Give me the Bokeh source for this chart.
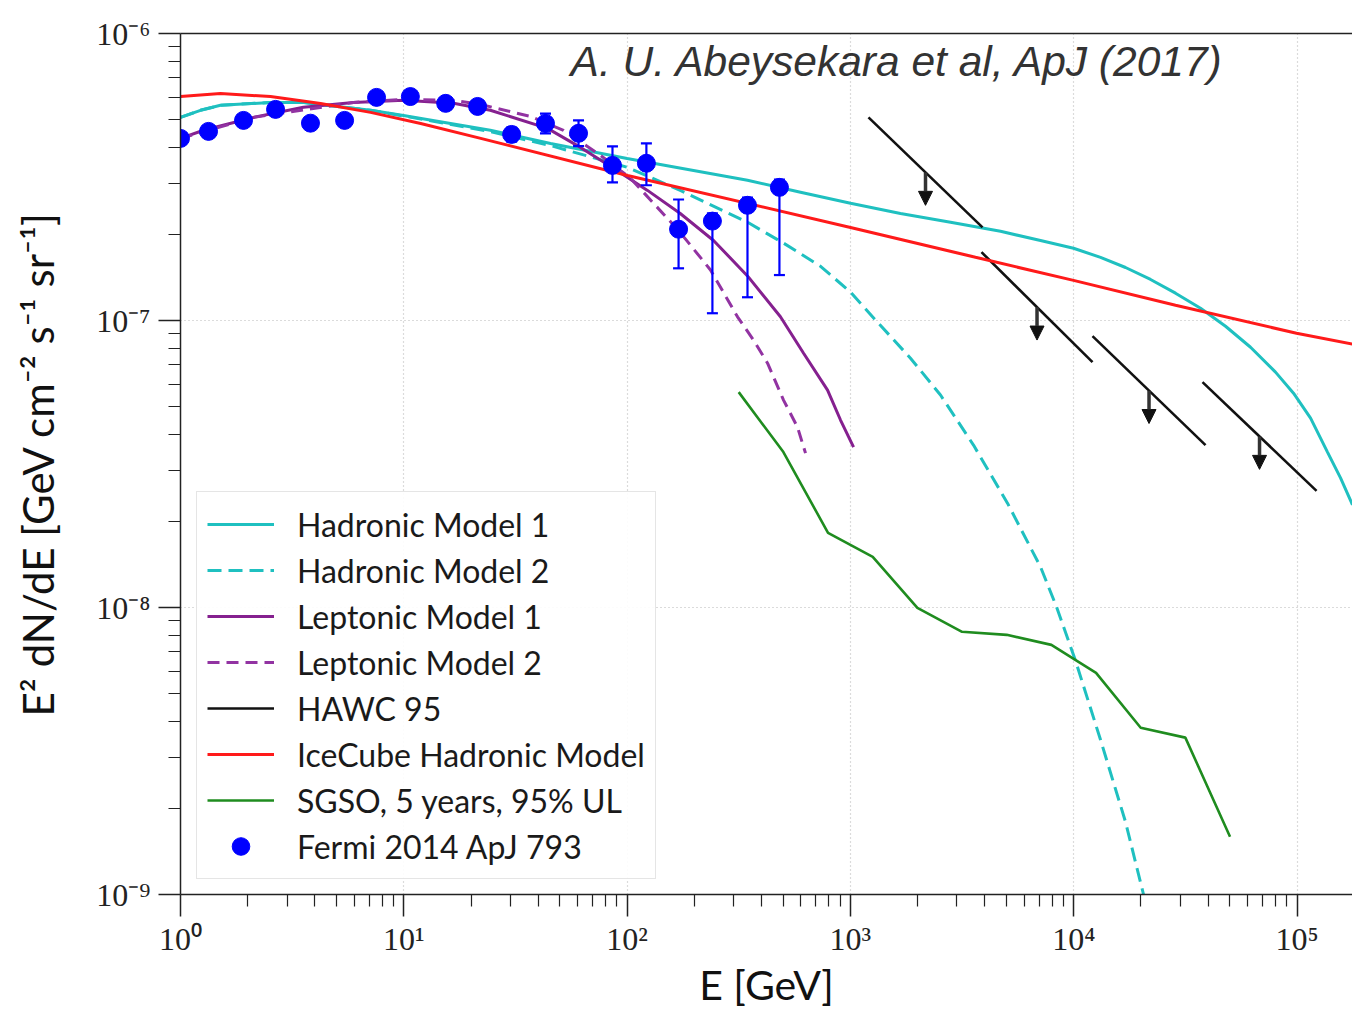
from bokeh.plotting import figure
from bokeh.models import (FixedTicker, CustomJSTickFormatter, Legend, LegendItem,
                          LogAxis, Label, Arrow, NormalHead, ColumnDataSource)
from bokeh.embed import file_html
from bokeh.resources import INLINE

# ---- axes -------------------------------------------------------------
x_start, x_end = 1.0, 1.772e5
y_start, y_end = 1e-9, 1e-6
x_ticks = [1, 10, 100, 1000, 10000, 100000]
x_tick_labels = ["10\u2070", "10\u00b9", "10\u00b2", "10\u00b3", "10\u2074", "10\u2075"]
y_ticks = [1e-9, 1e-8, 1e-7, 1e-6]
y_tick_labels = ["10\u207b\u2079", "10\u207b\u2078", "10\u207b\u2077", "10\u207b\u2076"]

# ---- Fermi-LAT 2014 (ApJ 793) spectral points --------------------------
fermi_E = [1.0, 1.335, 1.915, 2.665, 3.82, 5.43, 7.55, 10.7, 15.4, 21.4,
           30.4, 43.1, 60.6, 86.0, 122.0, 170.0, 241.0, 346.0, 481.0]
fermi_F = [4.31e-7, 4.56e-7, 4.98e-7, 5.44e-7, 4.87e-7, 4.98e-7, 5.99e-7, 6.03e-7,
           5.71e-7, 5.57e-7, 4.45e-7, 4.86e-7, 4.49e-7, 3.47e-7, 3.53e-7, 2.08e-7,
           2.22e-7, 2.52e-7, 2.91e-7]
fermi_F_up = [4.48e-7, 4.74e-7, 5.18e-7, 5.66e-7, 5.07e-7, 5.18e-7, 6.23e-7, 6.27e-7,
              5.96e-7, 5.84e-7, 4.70e-7, 5.26e-7, 4.98e-7, 4.04e-7, 4.14e-7, 2.64e-7,
              2.36e-7, 2.68e-7, 3.10e-7]
fermi_F_dn = [4.14e-7, 4.38e-7, 4.78e-7, 5.22e-7, 4.67e-7, 4.78e-7, 5.75e-7, 5.79e-7,
              5.46e-7, 5.30e-7, 4.20e-7, 4.49e-7, 4.05e-7, 3.03e-7, 2.96e-7, 1.52e-7,
              1.06e-7, 1.205e-7, 1.44e-7]

# ---- model curves ------------------------------------------------------
had1_E = [1.0, 1.229, 1.51, 2.53, 3.55, 7.10, 9.97, 24.4, 45.4, 100.0, 346.0, 597.8,
          1001.0, 1676.0, 2808.0, 4700.0, 7101.0, 9980.0, 13183.0, 17060.0, 22080.0,
          28570.0, 36980.0, 47850.0, 61920.0, 80110.0, 96450.0, 115000.0, 136900.0,
          156600.0, 177200.0]
had1_F = [5.10e-7, 5.40e-7, 5.62e-7, 5.75e-7, 5.75e-7, 5.40e-7, 5.18e-7, 4.60e-7,
          4.14e-7, 3.67e-7, 3.08e-7, 2.80e-7, 2.56e-7, 2.36e-7, 2.20e-7, 2.045e-7,
          1.90e-7, 1.785e-7, 1.66e-7, 1.53e-7, 1.39e-7, 1.245e-7, 1.104e-7, 9.55e-8,
          8.07e-8, 6.61e-8, 5.58e-8, 4.57e-8, 3.48e-8, 2.83e-8, 2.28e-8]

had2_E = [1.0, 1.229, 1.51, 2.53, 3.55, 7.10, 9.97, 24.4, 45.4, 100.0, 173.0, 346.0,
          502.0, 735.0, 1001.0, 1309.0, 1858.0, 2532.0, 3558.0, 5052.0, 7101.0,
          8375.0, 10190.0, 13183.0, 17060.0, 20540.0, 21630.0]
had2_F = [5.10e-7, 5.40e-7, 5.62e-7, 5.75e-7, 5.75e-7, 5.40e-7, 5.16e-7, 4.55e-7,
          4.07e-7, 3.42e-7, 2.84e-7, 2.20e-7, 1.86e-7, 1.545e-7, 1.255e-7, 9.95e-8,
          7.39e-8, 5.50e-8, 3.68e-8, 2.31e-8, 1.385e-8, 1.005e-8, 6.52e-9, 3.46e-9,
          1.79e-9, 1.0e-9, 7.85e-10]

lep1_E = [1.0, 1.268, 2.12, 3.55, 5.95, 9.97, 16.7, 24.4, 44.0, 61.8, 86.9, 123.4,
          173.0, 243.8, 346.0, 486.0, 617.0, 790.0, 903.0, 1033.0]
lep1_F = [4.31e-7, 4.60e-7, 5.10e-7, 5.53e-7, 5.75e-7, 5.85e-7, 5.71e-7, 5.40e-7,
          4.67e-7, 4.01e-7, 3.39e-7, 2.84e-7, 2.36e-7, 1.90e-7, 1.43e-7, 1.03e-7,
          7.69e-8, 5.72e-8, 4.50e-8, 3.62e-8]

lep2_E = [1.0, 2.12, 5.95, 9.97, 16.7, 22.1, 36.9, 51.9, 76.0, 103.6, 169.9, 236.3,
          312.2, 368.3, 425.5, 501.7, 579.6, 629.4]
lep2_F = [4.31e-7, 5.10e-7, 5.75e-7, 5.89e-7, 5.85e-7, 5.66e-7, 5.14e-7, 4.60e-7,
          3.76e-7, 3.13e-7, 2.06e-7, 1.50e-7, 1.03e-7, 8.54e-8, 7.10e-8, 5.28e-8,
          4.25e-8, 3.45e-8]

ice_E = [1.0, 1.51, 2.53, 4.24, 7.10, 11.9, 22.1, 100.4, 1001.0, 3632.0, 9980.0,
         28570.0, 99500.0, 177200.0]
ice_F = [6.03e-7, 6.18e-7, 6.03e-7, 5.70e-7, 5.31e-7, 4.86e-7, 4.31e-7, 3.20e-7,
         2.11e-7, 1.66e-7, 1.38e-7, 1.13e-7, 9.03e-8, 8.27e-8]

sgso_E = [316.0, 501.0, 794.0, 1259.0, 1995.0, 3162.0, 5012.0, 7943.0, 12590.0,
          19950.0, 31620.0, 50120.0]
sgso_F = [5.63e-8, 3.48e-8, 1.82e-8, 1.50e-8, 9.97e-9, 8.23e-9, 8.03e-9, 7.41e-9,
          5.92e-9, 3.81e-9, 3.52e-9, 1.59e-9]

# HAWC 95% upper limits: one power-law segment per energy bin
hawc_E_lo = [1205.0, 3865.0, 12140.0, 37740.0]
hawc_E_hi = [3905.0, 12140.0, 38930.0, 122300.0]
hawc_F_at_lo = [5.10e-7, 1.73e-7, 8.82e-8, 6.10e-8]
hawc_F_at_hi = [2.11e-7, 7.16e-8, 3.68e-8, 2.55e-8]

# ---- styles ------------------------------------------------------------
CYAN = "#1fc0c0"
PURPLE = "#85208f"
PURPLE_D = "#9233a2"
RED = "#ff1a1a"
GREEN = "#1f8c1f"
BLUE = "#0000ff"
SANS = "Lato"
SERIF = "Liberation Serif"
ARROW_DROP = 0.768   # upper-limit arrow length, as a flux ratio

p = figure(width=1352, height=1011, x_axis_type="log", y_axis_type="log",
           x_range=(x_start, x_end), y_range=(y_start, y_end),
           output_backend="svg", toolbar_location=None,
           min_border_left=180, min_border_right=0,
           min_border_top=33, min_border_bottom=116)
p.outline_line_color = None
p.background_fill_color = "white"
p.border_fill_color = "white"


def tick_formatter(vals, labs):
    return CustomJSTickFormatter(args=dict(vals=vals, labs=labs), code="""
        let best = 0, d = Infinity;
        for (let i = 0; i < vals.length; i++) {
            const di = Math.abs(Math.log10(vals[i]) - Math.log10(tick));
            if (di < d) { d = di; best = i; }
        }
        return labs[best];
    """)


x_minor = [m * 10 ** k for k in range(0, 6) for m in range(2, 10)]
y_minor = [m * 10.0 ** k for k in range(-9, -6) for m in range(2, 10)]

xa = p.xaxis[0]
xa.ticker = FixedTicker(ticks=x_ticks, minor_ticks=x_minor)
xa.formatter = tick_formatter(x_ticks, x_tick_labels)
ya = p.yaxis[0]
ya.ticker = FixedTicker(ticks=y_ticks, minor_ticks=y_minor)
ya.formatter = tick_formatter(y_ticks, y_tick_labels)

for ax in (xa, ya):
    ax.axis_line_color = "#222222"
    ax.axis_line_width = 1.5
    ax.major_tick_line_color = "#222222"
    ax.minor_tick_line_color = "#222222"
    ax.major_tick_line_width = 1.5
    ax.minor_tick_line_width = 1.2
    ax.major_tick_in = 0
    ax.major_tick_out = 22
    ax.minor_tick_in = 0
    ax.minor_tick_out = 12
    ax.major_label_text_font = SERIF
    ax.major_label_text_font_size = "32px"
    ax.major_label_text_color = "#222222"
    ax.axis_label_text_font = SANS
    ax.axis_label_text_font_style = "normal"
    ax.axis_label_text_color = "#111111"

xa.axis_label = "E [GeV]"
xa.axis_label_text_font_size = "41px"
xa.major_label_standoff = 4
xa.axis_label_standoff = 0
ya.axis_label = "E\u00b2 dN/dE [GeV cm\u207b\u00b2 s\u207b\u00b9 sr\u207b\u00b9]"
ya.axis_label_text_font_size = "42px"
ya.major_label_standoff = 8
ya.axis_label_standoff = 30

top = LogAxis(ticker=FixedTicker(ticks=[]), major_label_text_font_size="0px",
              major_tick_out=0, minor_tick_out=0, major_tick_in=0, minor_tick_in=0,
              axis_line_color="#222222", axis_line_width=1.5)
p.add_layout(top, "above")

for g in (p.xgrid[0], p.ygrid[0]):
    g.grid_line_color = "#b8b8b8"
    g.grid_line_dash = "1 3"
    g.grid_line_width = 1.2

# ---- curves ------------------------------------------------------------
r_h1 = p.line(had1_E, had1_F, line_color=CYAN, line_width=3)
r_h2 = p.line(had2_E, had2_F, line_color=CYAN, line_width=3, line_dash="14 7")
r_l1 = p.line(lep1_E, lep1_F, line_color=PURPLE, line_width=3)
r_l2 = p.line(lep2_E, lep2_F, line_color=PURPLE_D, line_width=3, line_dash="12 7")

r_hawc = p.segment(x0=hawc_E_lo, y0=hawc_F_at_lo, x1=hawc_E_hi, y1=hawc_F_at_hi,
                   line_color="#111111", line_width=2.6)
arrow_x = [(a * b) ** 0.5 for a, b in zip(hawc_E_lo, hawc_E_hi)]
arrow_y0 = [(a * b) ** 0.5 for a, b in zip(hawc_F_at_lo, hawc_F_at_hi)]
arrow_y1 = [v * ARROW_DROP for v in arrow_y0]
p.add_layout(Arrow(source=ColumnDataSource(dict(x=arrow_x, y0=arrow_y0, y1=arrow_y1)),
                   x_start="x", y_start="y0", x_end="x", y_end="y1",
                   line_color="#333333", line_width=3.5,
                   end=NormalHead(size=14, fill_color="#111111", line_color="#111111",
                                  line_width=1)))

r_ice = p.line(ice_E, ice_F, line_color=RED, line_width=3)
r_sgso = p.line(sgso_E, sgso_F, line_color=GREEN, line_width=2.6)

# Fermi points with error bars and caps
p.segment(x0=fermi_E, y0=fermi_F_dn, x1=fermi_E, y1=fermi_F_up,
          line_color=BLUE, line_width=2.2)
p.scatter(fermi_E + fermi_E, fermi_F_up + fermi_F_dn, marker="dash", size=11,
          line_color=BLUE, line_width=2.2)
r_fermi = p.scatter(fermi_E, fermi_F, marker="circle", size=18,
                    fill_color=BLUE, line_color=BLUE)

legend = Legend(items=[
    LegendItem(label="Hadronic Model 1", renderers=[r_h1]),
    LegendItem(label="Hadronic Model 2", renderers=[r_h2]),
    LegendItem(label="Leptonic Model 1", renderers=[r_l1]),
    LegendItem(label="Leptonic Model 2", renderers=[r_l2]),
    LegendItem(label="HAWC 95", renderers=[r_hawc]),
    LegendItem(label="IceCube Hadronic Model", renderers=[r_ice]),
    LegendItem(label="SGSO, 5 years, 95% UL", renderers=[r_sgso]),
    LegendItem(label="Fermi 2014 ApJ 793", renderers=[r_fermi]),
], location=(16, 15), glyph_width=67, glyph_height=44, spacing=2, padding=10,
    label_standoff=23, label_text_font=SANS, label_text_font_size="32px",
    label_text_color="#1a1a1a", border_line_color="#cccccc", border_line_width=1.5,
    background_fill_color="white", background_fill_alpha=0.92, margin=0)
p.add_layout(legend)

p.add_layout(Label(x=55.8, y=7.99e-7, text="A. U. Abeysekara et al, ApJ (2017)",
                   text_font="Liberation Sans", text_font_style="italic",
                   text_font_size="42.5px", text_color="#333333",
                   text_baseline="alphabetic"))

open("out.html", "w").write(file_html(p, INLINE))
